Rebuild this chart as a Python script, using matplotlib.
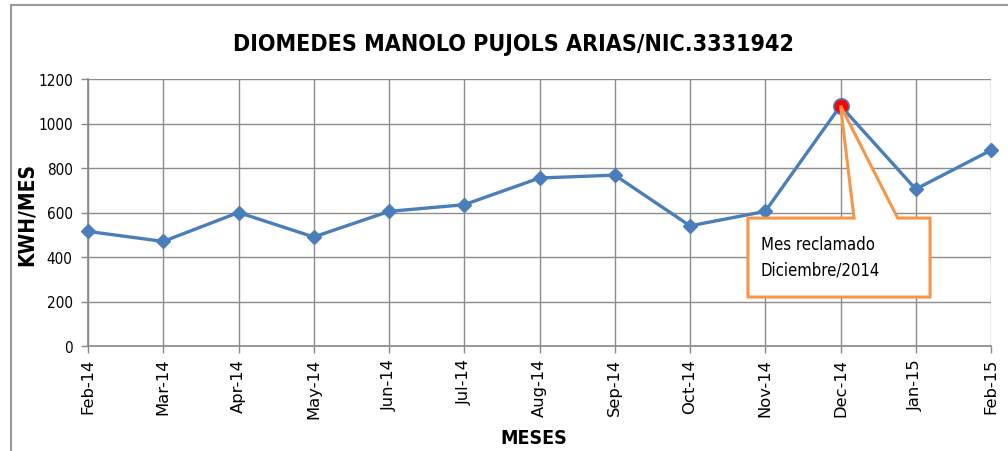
import matplotlib
matplotlib.use("Agg")
import matplotlib.pyplot as plt
from matplotlib.patches import Polygon, Rectangle
import numpy as np

months = ["Feb-14", "Mar-14", "Apr-14", "May-14", "Jun-14", "Jul-14", "Aug-14",
          "Sep-14", "Oct-14", "Nov-14", "Dec-14", "Jan-15", "Feb-15"]
kwh = [515, 470, 600, 490, 605, 635, 755, 768, 540, 605, 1080, 705, 880]
claimed_index = 10
title = "DIOMEDES MANOLO PUJOLS ARIAS/NIC.3331942"
callout_lines = ["Mes reclamado", "Diciembre/2014"]

fig = plt.figure(figsize=(10.08, 4.52), dpi=100)
ax = fig.add_axes([88/1008, 1-347/452, (991-88)/1008, (347-80)/452])

x = np.arange(len(months))
ax.plot(x, kwh, color="#4A7EBB", lw=2.4, marker="D", ms=7, mec="#4A7EBB",
        mfc="#4A7EBB", zorder=3, clip_on=False)
ax.plot(x[claimed_index], kwh[claimed_index], marker="o", ms=11, mfc="red",
        mec="#4A7EBB", mew=1.2, zorder=5, ls="none")

ax.set_xlim(0, len(months)-1)
ax.set_ylim(0, 1200)
ax.set_yticks(np.arange(0, 1201, 200))
ax.set_xticks(x)
ax.set_xticklabels(months, rotation=90, fontsize=11.8, family="DejaVu Sans")
ax.tick_params(axis="y", labelsize=11, colors="#888888", labelcolor="black",
               length=5, width=1, pad=6)
for lab in ax.get_yticklabels():
    lab.set_fontstretch("condensed")
ax.tick_params(axis="x", colors="#888888", labelcolor="black", length=5, width=1)
ax.grid(True, color="#8c8c8c", lw=1)
ax.set_axisbelow(True)
for s in ["top", "right"]:
    ax.spines[s].set_visible(False)
for s in ["left", "bottom"]:
    ax.spines[s].set_color("#888888")
    ax.spines[s].set_linewidth(1.2)

# callout
tipx, tipy = x[claimed_index], kwh[claimed_index]
bl, br, bt, bb = 8.77, 11.19, 575, 220
pl, pr = 10.18, 10.76
poly = Polygon([(bl, bt), (pl, bt), (tipx, tipy), (pr, bt), (br, bt), (br, bb), (bl, bb)],
               closed=True, facecolor="white", edgecolor="#F79646", lw=2.2, zorder=6)
ax.add_patch(poly)
ax.text(bl + 0.17, 460, callout_lines[0], fontsize=12, family="DejaVu Sans",
        fontstretch="condensed", va="center", ha="left", zorder=7)
ax.text(bl + 0.17, 342, callout_lines[1], fontsize=12, family="DejaVu Sans",
        fontstretch="condensed", va="center", ha="left", zorder=7)

fig.text(513/1008, 1-45/452, title, fontsize=16.7, fontweight="bold",
         family="DejaVu Sans", fontstretch="condensed", ha="center", va="center")
fig.text(27/1008, 1-215/452, "KWH/MES", fontsize=15, fontweight="bold",
         family="DejaVu Sans", fontstretch="condensed",
         ha="center", va="center", rotation=90)
fig.text(534/1008, 1-439/452, "MESES", fontsize=14, fontweight="bold",
         family="DejaVu Sans", fontstretch="condensed", ha="center", va="center")

# chart border
fig.patches.append(Rectangle((10.5/1008, -0.05), 1.0, 1-6/452 + 0.05,
                             transform=fig.transFigure, fill=False,
                             edgecolor="#9a9a9a", lw=1.5))

fig.savefig("out.png", dpi=100)
